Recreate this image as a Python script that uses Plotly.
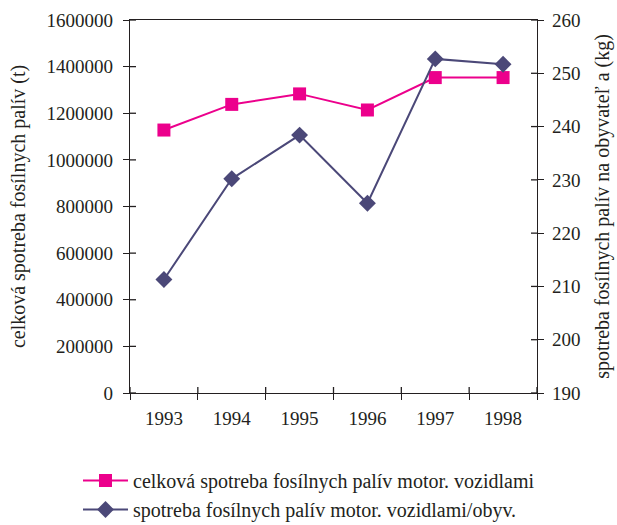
import plotly.graph_objects as go

# Data
years = ["1993", "1994", "1995", "1996", "1997", "1998"]
total_consumption = [1128000, 1238000, 1283000, 1214000, 1353000, 1353000]  # t
per_capita = [211.3, 230.2, 238.4, 225.6, 252.7, 251.7]  # kg per inhabitant

name_total = "celková spotreba fosílnych palív motor. vozidlami"
name_capita = "spotreba fosílnych palív motor. vozidlami/obyv."
title_left = "celková spotreba fosílnych palív (t)"
title_right = "spotreba fosílnych palív na obyvateľ a (kg)"

left_range = [0, 1600000]
right_range = [190, 260]
left_ticks = list(range(0, 1600001, 200000))
right_ticks = list(range(190, 261, 10))

PINK = "#EC008C"
PURPLE = "#4B4878"
INK = "#231F20"
FONT = "Liberation Serif"
TICK_SIZE = 19
TEXT_SIZE = 20

W, H = 617, 525
ML, MR, MT, MB = 130, 80, 20, 132
TICK = 6

fig = go.Figure()
fig.add_trace(go.Scatter(
    x=years, y=total_consumption, name=name_total, mode="lines+markers",
    line=dict(color=PINK, width=2),
    marker=dict(symbol="square", size=13, color=PINK),
    yaxis="y",
))
fig.add_trace(go.Scatter(
    x=years, y=per_capita, name=name_capita, mode="lines+markers",
    line=dict(color=PURPLE, width=2),
    marker=dict(symbol="diamond", size=13, color=PURPLE),
    yaxis="y2",
))

axis_common = dict(
    showgrid=False, zeroline=False, showline=True, linecolor=INK, linewidth=1.3,
    tickcolor=INK, tickwidth=1.3, ticklen=TICK, ticks="outside",
    tickfont=dict(family=FONT, size=TICK_SIZE, color=INK),
)

# inner halves of the crossing tick marks
plot_w = W - ML - MR
plot_h = H - MT - MB
dx = TICK / plot_w
dy = TICK / plot_h
tick_line = dict(color=INK, width=1.3)
shapes = []
for v in left_ticks:
    shapes.append(dict(type="line", xref="x domain", yref="y",
                       x0=0, x1=dx, y0=v, y1=v, line=tick_line))
for v in right_ticks:
    shapes.append(dict(type="line", xref="x domain", yref="y2",
                       x0=1 - dx, x1=1, y0=v, y1=v, line=tick_line))
for i in range(len(years) + 1):
    xb = i / len(years)
    shapes.append(dict(type="line", xref="x domain", yref="y domain",
                       x0=xb, x1=xb, y0=0, y1=dy, line=tick_line))

fig.update_layout(
    width=W, height=H,
    margin=dict(l=ML, r=MR, t=MT, b=MB, autoexpand=False),
    paper_bgcolor="white", plot_bgcolor="white",
    font=dict(family=FONT, size=TEXT_SIZE, color=INK),
    xaxis=dict(
        **axis_common, type="category", categoryorder="array", categoryarray=years,
        range=[-0.5, 5.5], tickson="boundaries", mirror=True,
        ticklabelstandoff=8,
    ),
    yaxis=dict(
        **axis_common, range=left_range, tickvals=left_ticks,
        tickformat="d", ticklabelstandoff=6,
        title=dict(text=title_left, standoff=15,
                   font=dict(family=FONT, size=TEXT_SIZE, color=INK)),
    ),
    yaxis2=dict(
        **axis_common, range=right_range, tickvals=right_ticks,
        overlaying="y", side="right", anchor="x", ticklabelstandoff=4,
        title=dict(text=title_right, standoff=15,
                   font=dict(family=FONT, size=TEXT_SIZE, color=INK)),
    ),
    legend=dict(
        x=(78 - ML) / plot_w, y=-(461 - (H - MB)) / plot_h,
        xanchor="left", yanchor="top", orientation="v",
        font=dict(family=FONT, size=TEXT_SIZE, color=INK),
        itemwidth=45, tracegroupgap=0, bgcolor="rgba(0,0,0,0)",
    ),
    shapes=shapes,
    showlegend=True,
)

fig.write_html("out.html")
